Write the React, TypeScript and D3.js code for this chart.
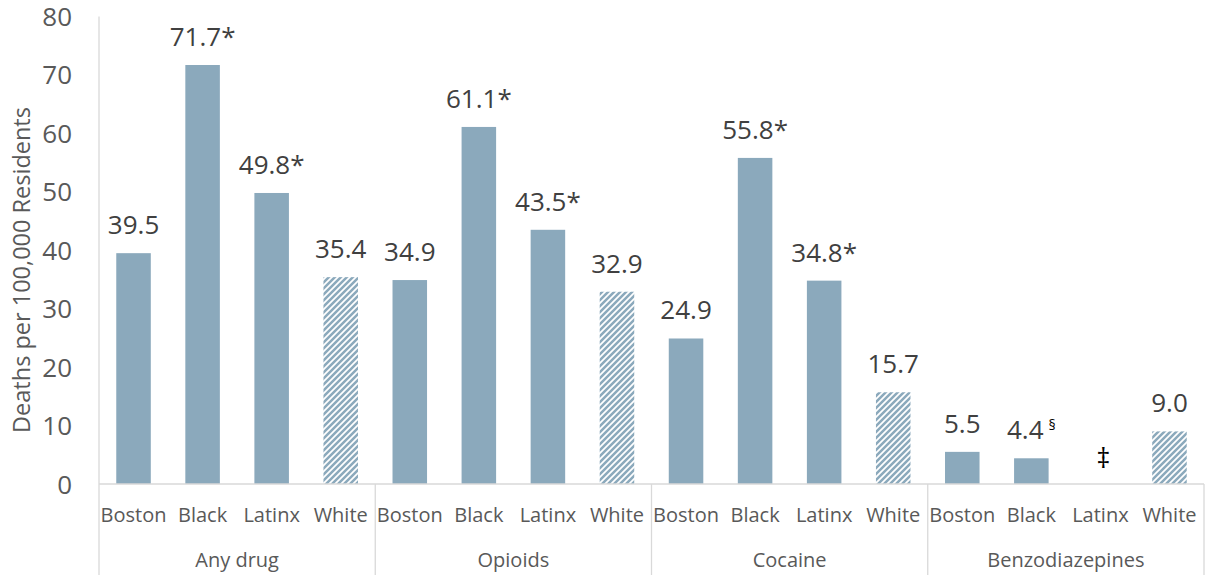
import React from "react";
import * as d3 from "d3";

// Drug overdose death rates by group, per 100,000 residents
const drugGroups = ["Any drug", "Opioids", "Cocaine", "Benzodiazepines"];
const populations = ["Boston", "Black", "Latinx", "White"];

const anyDrugRates: (number | null)[] = [39.5, 71.7, 49.8, 35.4];
const opioidRates: (number | null)[] = [34.9, 61.1, 43.5, 32.9];
const cocaineRates: (number | null)[] = [24.9, 55.8, 34.8, 15.7];
const benzoRates: (number | null)[] = [5.5, 4.4, null, 9.0];

// "*" = significant difference vs. White residents
const anyDrugMarks = ["", "*", "*", ""];
const opioidMarks = ["", "*", "*", ""];
const cocaineMarks = ["", "*", "*", ""];
const benzoMarks = ["", "§", "‡", ""];

const yTicks = [0, 10, 20, 30, 40, 50, 60, 70, 80];
const yTitle = "Deaths per 100,000 Residents";

const W = 1209;
const H = 575;
const FONT = "'Open Sans', sans-serif";
const BAR = "#8ba9bc";
const GRID = "#d9d9d9";
const LABEL = "#595959";
const VALUE = "#404040";

export default function App() {
  const left = 99;
  const right = 1204;
  const x0 = d3.scaleBand<string>().domain(drugGroups).range([left, right]).padding(0);
  const x1 = d3
    .scaleBand<string>()
    .domain(populations)
    .range([0, x0.bandwidth()])
    .paddingInner(0.5)
    .paddingOuter(0.25);
  const y = d3.scaleLinear().domain([0, 80]).range([484, 16.5]);

  const rates = [anyDrugRates, opioidRates, cocaineRates, benzoRates];
  const marks = [anyDrugMarks, opioidMarks, cocaineMarks, benzoMarks];

  const rows = drugGroups.flatMap((g, gi) =>
    populations.map((p, pi) => ({
      group: g,
      pop: p,
      value: rates[gi][pi],
      mark: marks[gi][pi],
    }))
  );

  const baseY = y(0);

  return (
    <svg
      width={W}
      height={H}
      style={{ position: "absolute", left: 0, top: 0, background: "#fff" }}
      fontFamily={FONT}
    >
      <defs>
        <pattern id="hatch" patternUnits="userSpaceOnUse" width={6} height={6}>
          <rect width={6} height={6} fill="#fff" />
          <path
            d="M-1.5,1.5 l3,-3 M0,6 l6,-6 M4.5,7.5 l3,-3"
            stroke={BAR}
            strokeWidth={2.5}
          />
        </pattern>
      </defs>

      {/* y axis */}
      <line x1={left} x2={left} y1={y(80)} y2={H} stroke={GRID} strokeWidth={1.3} />
      {yTicks.map((t) => (
        <text
          key={t}
          x={72}
          y={y(t) + 9.5}
          textAnchor="end"
          fontSize={26}
          fill={LABEL}
        >
          {t}
        </text>
      ))}
      <text
        transform={`translate(30,270) rotate(-90)`}
        textAnchor="middle"
        fontSize={23.5}
        fill={LABEL}
      >
        {yTitle}
      </text>

      {/* bars */}
      {rows.map((r) => {
        if (r.value == null) return null;
        const bx = (x0(r.group) ?? 0) + (x1(r.pop) ?? 0);
        return (
          <rect
            key={r.group + r.pop}
            x={bx}
            y={y(r.value)}
            width={x1.bandwidth()}
            height={baseY - y(r.value)}
            fill={r.pop === "White" ? "url(#hatch)" : BAR}
          />
        );
      })}

      {/* value labels */}
      {rows.map((r) => {
        const cx = (x0(r.group) ?? 0) + (x1(r.pop) ?? 0) + x1.bandwidth() / 2;
        const v = r.value ?? 0;
        const ty = y(v) - 19;
        if (r.value == null) {
          return (
            <text
              key={"l" + r.group + r.pop}
              x={cx + 3}
              y={ty + 3}
              textAnchor="middle"
              fontSize={27}
              fill="#000"
            >
              {r.mark}
            </text>
          );
        }
        if (r.mark === "§") {
          return (
            <text
              key={"l" + r.group + r.pop}
              x={cx}
              y={ty}
              textAnchor="middle"
              fontSize={26}
              fill={VALUE}
            >
              {r.value.toFixed(1)}
              <tspan fontSize={14} dy={-9} dx={5} fill="#000">
                {r.mark}
              </tspan>
            </text>
          );
        }
        return (
          <text
            key={"l" + r.group + r.pop}
            x={cx}
            y={ty}
            textAnchor="middle"
            fontSize={26}
            fill={VALUE}
          >
            {r.value.toFixed(1) + r.mark}
          </text>
        );
      })}

      {/* category axis */}
      <line x1={left} x2={right} y1={baseY} y2={baseY} stroke={GRID} strokeWidth={1.3} />
      {drugGroups.map((g) => (
        <line
          key={"sep" + g}
          x1={(x0(g) ?? 0) + x0.bandwidth()}
          x2={(x0(g) ?? 0) + x0.bandwidth()}
          y1={baseY}
          y2={H}
          stroke={GRID}
          strokeWidth={1.3}
        />
      ))}
      {rows.map((r) => (
        <text
          key={"c" + r.group + r.pop}
          x={(x0(r.group) ?? 0) + (x1(r.pop) ?? 0) + x1.bandwidth() / 2}
          y={522}
          textAnchor="middle"
          fontSize={20}
          fill={LABEL}
        >
          {r.pop}
        </text>
      ))}
      {drugGroups.map((g) => (
        <text
          key={"g" + g}
          x={(x0(g) ?? 0) + x0.bandwidth() / 2}
          y={567}
          textAnchor="middle"
          fontSize={20}
          fill={LABEL}
        >
          {g}
        </text>
      ))}
    </svg>
  );
}
